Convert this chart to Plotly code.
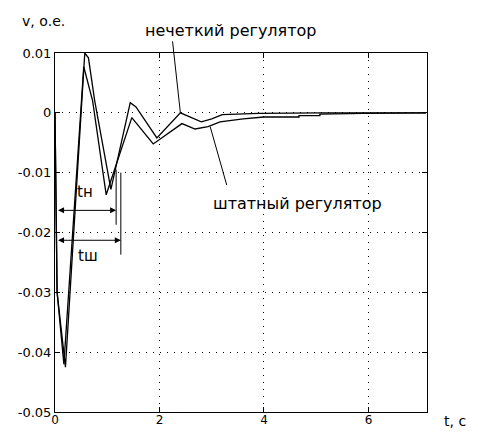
import plotly.graph_objects as go

# --- data ---
fuzzy_t = [0.0, 0.04, 0.20, 0.57, 0.64, 0.76, 1.07, 1.44, 1.55, 1.95, 2.40, 2.80, 3.00, 3.20, 3.90, 4.70, 5.10, 5.90, 7.10]
fuzzy_v = [0.0, -0.030, -0.0425, 0.0100, 0.0092, 0.0020, -0.0128, 0.0017, 0.0010, -0.0042, 0.0000, -0.0015, -0.0010, -0.0003, -0.0001, 0.0000, 0.0000, 0.0000, 0.0000]

std_t = [0.0, 0.04, 0.17, 0.55, 0.72, 0.98, 1.47, 1.88, 2.43, 2.68, 2.93, 3.16, 3.60, 4.00, 4.67, 4.67, 5.07, 5.07, 5.90, 7.10]
std_v = [0.0, -0.030, -0.0420, 0.0077, 0.0020, -0.0137, -0.0008, -0.0052, -0.0018, -0.0027, -0.0023, -0.0015, -0.0010, -0.0007, -0.0007, -0.00045, -0.00045, -0.0002, -0.0001, 0.0000]

x_ticks = [0, 2, 4, 6]
x_tick_labels = ["0", "2", "4", "6"]
y_ticks = [0.01, 0.0, -0.01, -0.02, -0.03, -0.04, -0.05]
y_tick_labels = ["0.01", "0", "-0.01", "-0.02", "-0.03", "-0.04", "-0.05"]

# time markers
t_fuzzy_end = 1.17
t_std_end = 1.26
arrow_fuzzy_v = -0.0163
arrow_std_v = -0.0213

FONT = "DejaVu Sans"

fig = go.Figure()
fig.add_trace(go.Scatter(x=fuzzy_t, y=fuzzy_v, mode="lines",
                         line=dict(color="black", width=1.3), showlegend=False))
fig.add_trace(go.Scatter(x=std_t, y=std_v, mode="lines",
                         line=dict(color="black", width=1.3), showlegend=False))

axis_common = dict(showline=True, linecolor="black", linewidth=1, mirror="ticks",
                   ticks="inside", ticklen=5, tickcolor="black", automargin=False,
                   showgrid=True, gridcolor="black", griddash="1px,6px", gridwidth=1,
                   zeroline=False, tickfont=dict(family=FONT, size=13, color="black"))

fig.update_xaxes(range=[0, 7.12], tickvals=x_ticks, ticktext=x_tick_labels, **axis_common)
fig.update_xaxes(tickfont=dict(family=FONT, size=12, color="black"), ticklabelstandoff=-3)
fig.update_yaxes(range=[-0.05, 0.01], tickvals=y_ticks, ticktext=y_tick_labels, **axis_common)

# vertical marker lines
fig.add_shape(type="line", xref="x", yref="y", x0=t_fuzzy_end, x1=t_fuzzy_end, y0=-0.0095, y1=-0.0187,
              line=dict(color="black", width=1))
fig.add_shape(type="line", xref="x", yref="y", x0=t_std_end, x1=t_std_end, y0=-0.0100, y1=-0.0237,
              line=dict(color="black", width=1))

annotations = [
    dict(x=t_fuzzy_end, y=arrow_fuzzy_v, ax=0.03, ay=arrow_fuzzy_v, xref="x", yref="y", axref="x", ayref="y",
         text="", showarrow=True, arrowside="end+start", arrowhead=2, arrowsize=1.2, arrowwidth=1, arrowcolor="black"),
    dict(x=t_std_end, y=arrow_std_v, ax=0.03, ay=arrow_std_v, xref="x", yref="y", axref="x", ayref="y",
         text="", showarrow=True, arrowside="end+start", arrowhead=2, arrowsize=1.2, arrowwidth=1, arrowcolor="black"),
    dict(x=0.57, y=-0.0133, xref="x", yref="y", text="tн", showarrow=False,
         font=dict(family=FONT, size=15, color="black")),
    dict(x=0.63, y=-0.0240, xref="x", yref="y", text="tш", showarrow=False,
         font=dict(family=FONT, size=15, color="black")),
    # leader lines
    dict(x=2.40, y=0.0, xref="x", yref="y", ax=-8, ay=-73, text="", showarrow=True,
         arrowhead=0, arrowwidth=1, arrowcolor="black"),
    dict(x=2.97, y=-0.0023, xref="x", yref="y", ax=17, ay=60, text="", showarrow=True,
         arrowhead=0, arrowwidth=1, arrowcolor="black"),
    # texts (page pixel positions, converted below)
    dict(x=230, y=30, text="нечеткий регулятор", showarrow=False,
         font=dict(family=FONT, size=16, color="black")),
    dict(x=297, y=203, text="штатный регулятор", showarrow=False,
         font=dict(family=FONT, size=16, color="black")),
    dict(x=43, y=21, text="v, о.е.", showarrow=False,
         font=dict(family=FONT, size=14, color="black")),
    dict(x=455, y=421, text="t, с", showarrow=False,
         font=dict(family=FONT, size=14, color="black")),
]

# page has an 8px body margin; plot area wanted at page x 55..427, y 53..412
OFF = 8
W, H = 478 - 2 * OFF, 436 - 2 * OFF
L, T = 55 - OFF, 53 - OFF
R = W - (427 - OFF)
B = H - (412 - OFF)
pw, ph = W - L - R, H - T - B
for a in annotations[6:]:
    px, py = a["x"] - OFF, a["y"] - OFF
    a["x"] = (px - L) / pw
    a["y"] = (H - py - B) / ph
    a["xref"] = "paper"
    a["yref"] = "paper"
    a["xanchor"] = "center"
    a["yanchor"] = "middle"

fig.update_layout(width=W, height=H, margin=dict(l=L, r=R, t=T, b=B),
                  paper_bgcolor="white", plot_bgcolor="white",
                  annotations=annotations, showlegend=False)

fig.write_html("out.html")
